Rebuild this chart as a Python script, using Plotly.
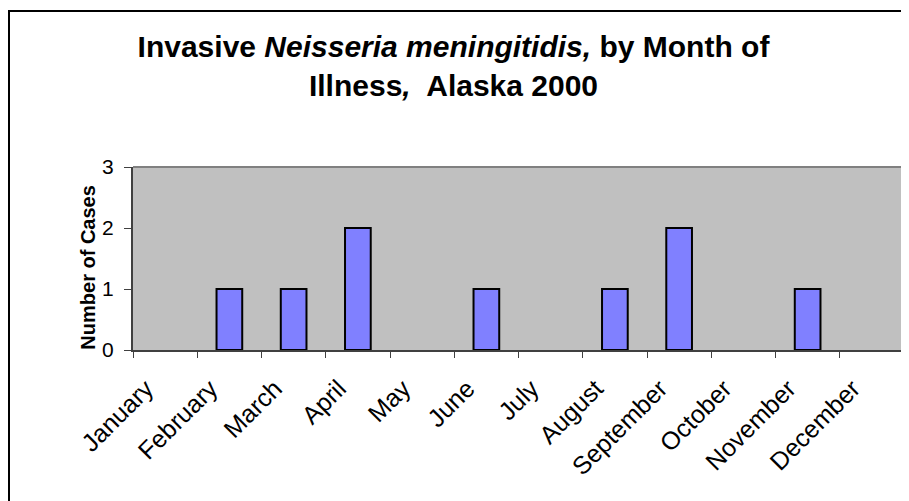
import plotly.graph_objects as go

months = [
    "January", "February", "March", "April", "May", "June",
    "July", "August", "September", "October", "November", "December",
]
cases = [0, 1, 1, 2, 0, 1, 0, 1, 2, 0, 1, 0]
y_ticks = [0, 1, 2, 3]

FONT = "Liberation Sans, Arial, sans-serif"

fig = go.Figure(
    go.Bar(
        x=months,
        y=cases,
        width=0.4,
        marker=dict(
            color="#8080FF",
            # no outline on empty months
            line=dict(color="black", width=[2 if v else 0 for v in cases]),
        ),
    )
)

# the page puts the figure 8px in from the window's top-left corner
W, H = 901, 493
L, R, T, B = 125, 5, 159, 151
pw, ph = W - L - R, H - T - B

fig.update_layout(
    width=W,
    height=H,
    margin=dict(l=L, r=R, t=T, b=B, autoexpand=False),
    paper_bgcolor="white",
    plot_bgcolor="#C0C0C0",
    showlegend=False,
    font=dict(family=FONT, color="black"),
    title=dict(
        text="<b>Invasive <i>Neisseria meningitidis,</i> by Month of<br>"
        "Illness<i>,</i>  Alaska 2000</b>",
        x=0.5 - 5 / W,
        xanchor="center",
        y=1 - 49 / H,
        yanchor="top",
        font=dict(size=30, family=FONT),
    ),
    xaxis=dict(
        type="category",
        automargin=False,
        tickangle=-45,
        tickson="boundaries",
        ticks="outside",
        ticklen=6,
        tickcolor="#404040",
        showline=True,
        linecolor="#404040",
        linewidth=2,
        showgrid=False,
        tickfont=dict(size=25),
        ticklabelstandoff=12,
        ticklabelshift=-19,
    ),
    yaxis=dict(
        range=[0, 3],
        automargin=False,
        tickvals=y_ticks,
        ticks="outside",
        ticklen=7,
        tickcolor="#404040",
        showline=True,
        linecolor="#404040",
        linewidth=2,
        showgrid=False,
        zeroline=False,
        tickfont=dict(size=21),
        ticklabelstandoff=6,
    ),
    # y-axis title sits a little below the plot's middle, as in the original
    annotations=[
        dict(
            text="<b>Number of Cases</b>",
            xref="paper", yref="paper",
            x=-45 / pw, y=0.45,
            xanchor="center", yanchor="middle",
            textangle=-90,
            showarrow=False,
            font=dict(size=20),
        )
    ],
    shapes=[
        # gray top/right border of the plot area
        dict(type="line", xref="paper", yref="paper", x0=0, x1=1, y0=1, y1=1,
             line=dict(color="#808080", width=2)),
        dict(type="line", xref="paper", yref="paper", x0=1, x1=1, y0=0, y1=1,
             line=dict(color="#808080", width=2)),
        # outer chart frame (runs off the right/bottom of the image)
        dict(type="rect", xref="paper", yref="paper",
             x0=(1 - L) / pw, x1=(W + 20 - L) / pw,
             y0=-(H + 20 - T - ph) / ph, y1=1 + (T - 3) / ph,
             line=dict(color="black", width=2), layer="below"),
    ],
)

fig.write_html("out.html")
